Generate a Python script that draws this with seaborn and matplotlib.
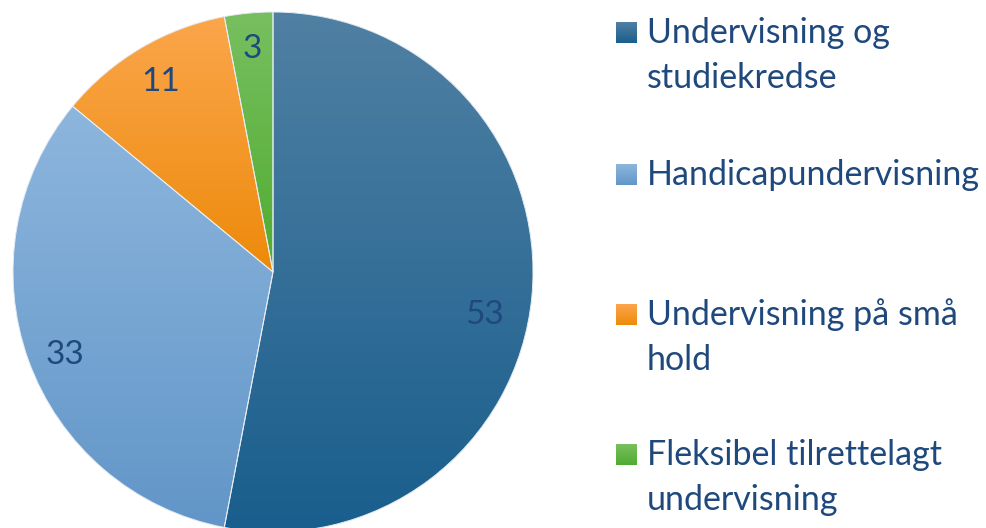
import numpy as np
import matplotlib.pyplot as plt
import seaborn as sns
from matplotlib.colors import LinearSegmentedColormap

# ------------------------------------------------------------
# data
# ------------------------------------------------------------
categories = [
    "Undervisning og\nstudiekredse",
    "Handicapundervisning",
    "Undervisning på små\nhold",
    "Fleksibel tilrettelagt\nundervisning",
]
values = [53, 33, 11, 3]

# gradient colours per slice (top, bottom)
top_colors = ["#5080A3", "#8DB6DD", "#FBA64C", "#78BF60"]
bottom_colors = ["#195E8D", "#6296C8", "#ED8A0A", "#50AC30"]
mid_colors = ["#2C6C98", "#78A8D6", "#F6962A", "#63B648"]
text_color = "#1F497D"

sns.set_theme(style="white")
plt.rcParams["font.family"] = ["Lato", "DejaVu Sans"]

W, H = 986, 528
fig = plt.figure(figsize=(W / 100, H / 100), dpi=100)
fig.patch.set_facecolor("white")

# pie axes: centre (273, 272) px, radius 260 px
R = 260
cx, cy = 273, 272
ax = fig.add_axes([(cx - R) / W, (H - cy - R) / H, 2 * R / W, 2 * R / H])
ax.set_axis_off()

wedges, _ = ax.pie(values, startangle=90, counterclock=False,
                   colors=mid_colors, radius=1.0,
                   wedgeprops=dict(linewidth=0))

# vertical gradient fill clipped to each wedge
grad = np.linspace(0, 1, 256).reshape(-1, 1)
for w, c0, c1 in zip(wedges, top_colors, bottom_colors):
    cmap = LinearSegmentedColormap.from_list("g", [c0, c1])
    ext = w.get_path().get_extents(w.get_patch_transform())
    im = ax.imshow(grad, cmap=cmap, aspect="auto",
                   extent=[ext.x0, ext.x1, ext.y0, ext.y1],
                   origin="upper", zorder=2)
    im.set_clip_path(w)

# thin light separators
ax.pie(values, startangle=90, counterclock=False, radius=1.0,
       wedgeprops=dict(facecolor="none", edgecolor="#E8EEF4", linewidth=0.7))
for p in ax.patches[len(values):]:
    p.set_zorder(3)

ax.set_xlim(-1, 1)
ax.set_ylim(-1, 1)
ax.set_aspect("equal")

# data labels
label_dist = [0.83, 0.86, 0.85, 0.86]
label_shift = [-6, 2, 0, 0]  # degrees, best-fit like placement
for w, v, d, s in zip(wedges, values, label_dist, label_shift):
    ang = np.deg2rad((w.theta1 + w.theta2) / 2 + s)
    ax.text(d * np.cos(ang), d * np.sin(ang), str(v), ha="center",
            va="center", fontsize=24, color=text_color, zorder=5)

# legend drawn by hand to mimic the spaced layout
sq = 21
line_step = 45
baselines = [43, 185, 325, 465]
for lab, top, bot, b in zip(categories, top_colors, bottom_colors, baselines):
    y_top = b - 21
    cmap = LinearSegmentedColormap.from_list("g", [top, bot])
    lax = fig.add_axes([616 / W, (H - y_top - sq) / H, sq / W, sq / H])
    lax.imshow(grad, cmap=cmap, aspect="auto", extent=[0, 1, 0, 1])
    lax.set_axis_off()
    for k, line in enumerate(lab.split("\n")):
        fig.text(647 / W, (H - b - k * line_step) / H, line, ha="left",
                 va="baseline", fontsize=24.5, color=text_color)

fig.savefig("out.png", dpi=100, facecolor="white")
